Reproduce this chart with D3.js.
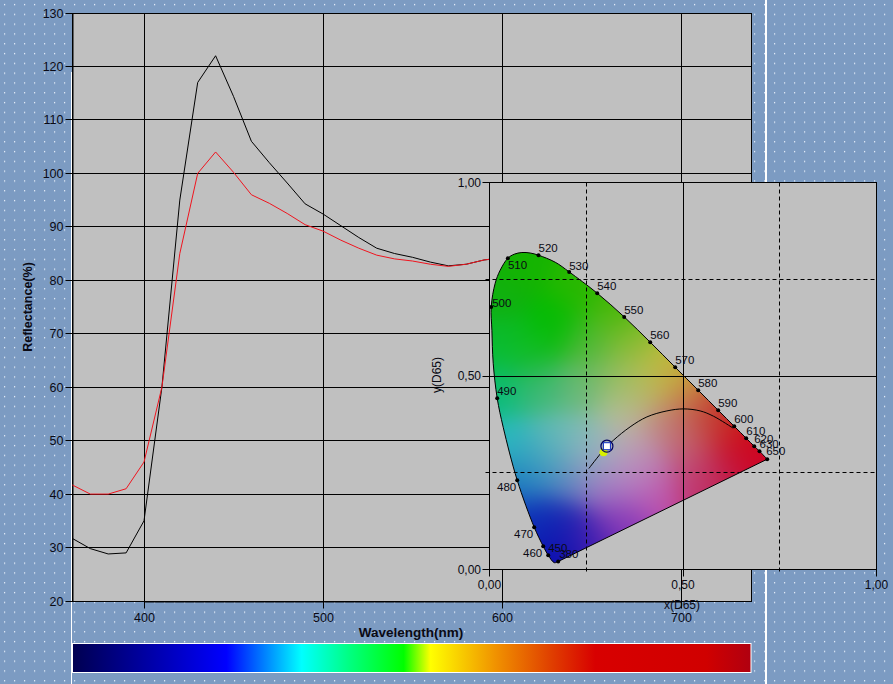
<!DOCTYPE html>
<html><head><meta charset="utf-8">
<script src="https://cdn.jsdelivr.net/npm/d3@7/dist/d3.min.js"></script>
<style>html,body{margin:0;padding:0;background:#7c9bc2;overflow:hidden}svg{display:block}
text{font-family:"Liberation Sans",Arial,sans-serif;fill:#0a0a14}</style></head><body><div id="c"></div>
<script>
// Spectral data
const wavelengths=[360,370,380,390,400,410,420,430,440,450,460,470,480,490,500,510,520,530,540,550,560,570,580,590,600];
const blackCurve=[31.7,29.8,28.8,29,35,60,95,117,122,114.4,106,102,98.2,94.3,92.4,90.2,88,86,85,84.3,83.4,82.7,83,83.8,84.2];
const redCurve=[41.7,40,40,41,46,60,85,100,104,100.2,96,94.4,92.5,90.4,89.2,87.5,86,84.7,84,83.6,83,82.6,83,83.8,84.2];
const yTicks=[20,30,40,50,60,70,80,90,100,110,120,130];
const xTicks=[400,500,600,700];
// Chromaticity data
const locusX=[.1775,.1675,.1517,.1388,.1155,.0716,.0354,.0199,.0096,.0062,.0044,.0147,.0276,.0475,.0638,.0837,.1052,.1266,.1698,.2059,.2783,.3481,.4153,.4798,.5393,.5909,.6323,.6633,.684,.6977,.7176];
const locusY=[.0207,.0176,.037,.0602,.1093,.2307,.3677,.4426,.533,.6183,.6786,.7398,.7734,.8044,.8147,.8191,.8178,.8121,.794,.769,.714,.6527,.5873,.5227,.4633,.4116,.3703,.3393,.3186,.3057,.285];
const dotNames=["380","450","460","470","480","490","500","510","520","530","540","550","560","570","580","590","600","610","620","630","650"];
const dotX=[.1775,.1517,.1388,.1155,.0716,.0199,.0044,.0475,.1266,.2059,.2783,.3481,.4153,.4798,.5393,.5909,.6323,.6633,.684,.6977,.7176];
const dotY=[.0207,.037,.0602,.1093,.2307,.4426,.6786,.8044,.8121,.769,.714,.6527,.5873,.5227,.4633,.4116,.3703,.3393,.3186,.3057,.285];
const labelDx=[1,0,-1,-1,-1,0,1,0,0,0,0,0,0,0,0,0,0,0,0,0,-1];
const labelDy=[-3,-3,11,11,11,-3,0,11,-3,-2,-3,-3,-3,-3,-3,-3,-3,-3,-3,-3,-4];
const labelAnchor=["start","start","end","end","end","start","start","start","start","start","start","start","start","start","start","start","start","start","start","start","start"];
const planckX=[.2568,.2946,.3204,.3633,.4067,.4584,.5013,.5444,.5788,.6297];
const planckY=[.261,.3083,.3341,.3685,.3943,.4098,.415,.4098,.3961,.3651];
const sampleA=[.3034,.3186], sampleB=[.2946,.3031];
const cieTicks=[0,.5,1], cieDashed=[.25,.75];
const shadeX=[.082,.022,.168,.229,.323,.013,.100,.255,.367,.453,.401,.332,.504,.022,.125,.237,.341,.048,.168,.254,.358,.444,.556,.599,.651,.707,.616,.521,.539,.427,.358,.298,.341,.254,.177,.186,.117,.203,.082,.125,.272,.410,.504];
const shadeY=[.795,.709,.632,.735,.675,.580,.563,.580,.589,.528,.477,.494,.468,.468,.468,.468,.408,.322,.330,.330,.322,.373,.391,.382,.330,.287,.270,.287,.218,.201,.253,.218,.132,.080,.037,.106,.124,.235,.235,.279,.287,.270,.356];
const shadeC=["#14b400","#10b010","#00bc00","#28b800","#48b808","#08bc30","#10bc20","#50b838","#88bc30","#c4bc38","#bcbc60","#90bc60","#c88c40","#08bc78","#40b878","#68b878","#b8c098","#28bcc0","#68bcb8","#80bcb8","#c0b0b0","#c08880","#c04838","#c82820","#d00810","#d00028","#c01848","#c05078","#c03068","#c050b0","#b890c8","#a070c0","#8838b8","#5020b0","#0808b0","#1020b0","#0c30b8","#5c80c0","#1870c0","#40a8c0","#a0b0c4","#b880b8","#c07070"];
// Colour bar
const barNm=[360,446,488,515,545,560,597,627,652,714,739];
const barColors=["#000050","#0000ff","#00ffff","#00ff80","#00ff00","#ffff00","#f09000","#e04000","#d80000","#d00000","#b00010"];

const W=893,H=684;
const svg=d3.select("#c").append("svg").attr("width",W).attr("height",H);
const defs=svg.append("defs");
const pat=defs.append("pattern").attr("id","dots").attr("width",10).attr("height",9.8).attr("patternUnits","userSpaceOnUse");
pat.append("rect").attr("width",10).attr("height",9.8).attr("fill","#7c9bc2");
pat.append("rect").attr("x",4).attr("y",4).attr("width",1.2).attr("height",1.2).attr("fill","#f0f6ff");
svg.append("rect").attr("width",W).attr("height",H).attr("fill","url(#dots)");
svg.append("line").attr("x1",766).attr("x2",766).attr("y1",0).attr("y2",H).attr("stroke","#fff").attr("stroke-width",2);
svg.append("line").attr("x1",71.5).attr("x2",71.5).attr("y1",72).attr("y2",H).attr("stroke","#fff").attr("stroke-width",1);

// Main plot
const L=72.5,R=751.5,T=13.5,B=601.5;
const x=d3.scaleLinear().domain([400,700]).range([144,681]);
const y=d3.scaleLinear().domain([20,130]).range([601,13]);
const py=d=>Math.floor(y(d))+.5, px=d=>Math.floor(x(d))+.5;
svg.append("rect").attr("x",L).attr("y",T).attr("width",R-L).attr("height",B-T).attr("fill","#c0c0c0");
const gy=svg.append("g").attr("transform",`translate(${L},0)`).call(d3.axisLeft(y).tickValues(yTicks).tickSize(7).tickPadding(2).tickSizeOuter(0));
const gx=svg.append("g").attr("transform",`translate(0,${B})`).call(d3.axisBottom(x).tickValues(xTicks).tickSize(7).tickPadding(5).tickSizeOuter(0));
gy.selectAll(".tick").attr("transform",d=>`translate(0,${py(d)})`);
gx.selectAll(".tick").attr("transform",d=>`translate(${px(d)},0)`);
[gy,gx].forEach(g=>{g.selectAll("text").style("font-size","12.5px").style("font-family",'"Liberation Sans",Arial,sans-serif').attr("fill","#0a0a14");
 g.selectAll("line").attr("stroke","#000");g.select(".domain").attr("stroke","#000");});
svg.append("g").selectAll("line").data(yTicks).join("line").attr("x1",L).attr("x2",R).attr("y1",py).attr("y2",py).attr("stroke","#000");
svg.append("g").selectAll("line").data(xTicks).join("line").attr("x1",px).attr("x2",px).attr("y1",T).attr("y2",B).attr("stroke","#000");
svg.append("rect").attr("x",L).attr("y",T).attr("width",R-L).attr("height",B-T).attr("fill","none").attr("stroke","#000");
const line=d3.line().x((d,i)=>x(wavelengths[i])).y(d=>y(d));
svg.append("path").attr("d",line(blackCurve)).attr("fill","none").attr("stroke","#000").attr("stroke-width",1);
svg.append("path").attr("d",line(redCurve)).attr("fill","none").attr("stroke","#f0141e").attr("stroke-width",1);
svg.append("text").attr("transform","translate(32,307) rotate(-90)").attr("text-anchor","middle").style("font-size","12.5px").style("font-weight","bold").text("Reflectance(%)");
svg.append("text").attr("x",411).attr("y",637).attr("text-anchor","middle").style("font-size","13.5px").style("font-weight","bold").text("Wavelength(nm)");

// Colour bar
const barX=d3.scaleLinear().domain([360,739]).range([L,R-0.5]);
const grad=defs.append("linearGradient").attr("id","bar");
grad.selectAll("stop").data(barNm).join("stop").attr("offset",d=>(barX(d)-L)/(R-0.5-L)).attr("stop-color",(d,i)=>barColors[i]);
svg.append("rect").attr("x",barX(360)).attr("y",643.5).attr("width",barX(739)-barX(360)).attr("height",29).attr("fill","url(#bar)").attr("stroke","#fff").attr("stroke-width",1);

// Inset CIE panel
const cx=d3.scaleLinear().domain([0,1]).range([489.5,876.5]);
const cy=d3.scaleLinear().domain([0,1]).range([569.5,182.5]);
svg.append("rect").attr("x",cx(0)).attr("y",cy(1)).attr("width",cx(1)-cx(0)).attr("height",cy(0)-cy(1)).attr("fill","#c0c0c0");
const fmt=d=>d3.format(".2f")(d).replace(".",",");
const pts=locusX.map((v,i)=>[v,locusY[i]]);
const clip=defs.append("clipPath").attr("id","gamut");
const locusLine=d3.line().x(d=>cx(d[0])).y(d=>cy(d[1])).curve(d3.curveCatmullRom.alpha(.5));
const locusD=locusLine(pts)+"Z";
clip.append("path").attr("d",locusD);
// shaded gamut: kernel blend of the shading samples
const cv=document.createElement("canvas");const iw=300,ih=390;cv.width=iw;cv.height=ih;
const ctx=cv.getContext("2d"),im=ctx.createImageData(iw,ih);
const rgb=shadeC.map(c=>d3.rgb(c));
const sig=.052;
for(let j=0;j<ih;j++)for(let i=0;i<iw;i++){
 const X0=cx.invert(489.5+i),Y0=cy.invert(182.5+j);
 let wS=0,r=0,g=0,b=0;
 for(let n=0;n<rgb.length;n++){
  const dx=X0-shadeX[n],dy=Y0-shadeY[n],w=Math.exp(-(dx*dx+dy*dy)/(2*sig*sig))+1e-12;
  wS+=w;r+=w*rgb[n].r;g+=w*rgb[n].g;b+=w*rgb[n].b;
 }
 const k=(j*iw+i)*4;
 im.data[k]=r/wS;im.data[k+1]=g/wS;im.data[k+2]=b/wS;im.data[k+3]=255;
}
ctx.putImageData(im,0,0);
svg.append("image").attr("href",cv.toDataURL()).attr("x",489.5).attr("y",182.5).attr("width",iw).attr("height",ih).attr("clip-path","url(#gamut)").attr("preserveAspectRatio","none");
svg.append("path").attr("d",locusD).attr("fill","none").attr("stroke","#000").attr("stroke-width",1);
// grid
const gc=d=>Math.round(cx(d)-.5)+.5, gr=d=>Math.round(cy(d)-.5)+.5;
svg.append("g").selectAll("line").data(cieTicks).join("line").attr("x1",gc).attr("x2",gc).attr("y1",cy(1)).attr("y2",cy(0)+7).attr("stroke","#000");
svg.append("g").selectAll("line").data(cieTicks).join("line").attr("y1",gr).attr("y2",gr).attr("x1",cx(0)-7).attr("x2",cx(1)).attr("stroke","#000");
svg.append("g").selectAll("line").data(cieDashed).join("line").attr("x1",gc).attr("x2",gc).attr("y1",cy(1)).attr("y2",cy(0)+4).attr("stroke","#000").attr("stroke-dasharray","4 3");
svg.append("g").selectAll("line").data(cieDashed).join("line").attr("y1",gr).attr("y2",gr).attr("x1",cx(0)-4).attr("x2",cx(1)).attr("stroke","#000").attr("stroke-dasharray","4 3");
svg.append("rect").attr("x",cx(0)).attr("y",cy(1)).attr("width",cx(1)-cx(0)).attr("height",cy(0)-cy(1)).attr("fill","none").attr("stroke","#000");
const tick=svg.append("g").style("font-size","12px");
tick.selectAll(".tx").data(cieTicks).join("text").attr("x",d=>cx(d)).attr("y",589).attr("text-anchor","middle").text(fmt);
tick.selectAll(".ty").data(cieTicks).join("text").attr("x",481).attr("y",d=>cy(d)+4).attr("text-anchor","end").text(fmt);
svg.append("text").attr("x",682).attr("y",609).attr("text-anchor","middle").style("font-size","12px").text("x(D65)");
svg.append("text").attr("transform","translate(441,375) rotate(-90)").attr("text-anchor","middle").style("font-size","12px").text("y(D65)");
// wavelength dots
svg.append("g").selectAll("circle").data(dotX).join("circle").attr("cx",d=>cx(d)).attr("cy",(d,i)=>cy(dotY[i])).attr("r",2).attr("fill","#000");
svg.append("g").style("font-size","11.5px").selectAll("text").data(dotNames).join("text")
 .attr("x",(d,i)=>cx(dotX[i])+labelDx[i]).attr("y",(d,i)=>cy(dotY[i])+labelDy[i]).attr("text-anchor",(d,i)=>labelAnchor[i]).text(d=>d);
// planckian
svg.append("path").attr("d",d3.line().x(d=>cx(d)).y((d,i)=>cy(planckY[i])).curve(d3.curveCatmullRom)(planckX)).attr("fill","none").attr("stroke","#000").attr("stroke-width",1);
// samples
svg.append("circle").attr("cx",cx(sampleB[0])).attr("cy",cy(sampleB[1])).attr("r",4).attr("fill","#d8f000");
svg.append("circle").attr("cx",cx(sampleA[0])).attr("cy",cy(sampleA[1])).attr("r",6).attr("fill","none").attr("stroke","#000060").attr("stroke-width",1.2);
svg.append("rect").attr("x",cx(sampleA[0])-3.5).attr("y",cy(sampleA[1])-3.5).attr("width",7).attr("height",7).attr("fill","#fff").attr("stroke","#1030c0").attr("stroke-width",1);
</script></body></html>
